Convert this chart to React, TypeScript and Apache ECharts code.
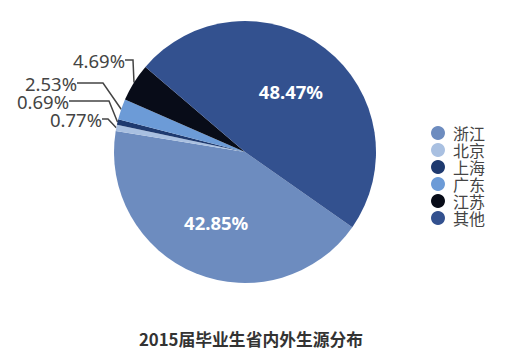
import React, { useEffect, useRef } from "react";
import * as echarts from "echarts";

const categories = ["浙江", "北京", "上海", "广东", "江苏", "其他"];
const values = [42.85, 0.77, 0.69, 2.53, 4.69, 48.47];
const colors = ["#6d8cbf", "#a9c0e1", "#1f3a6f", "#6c9bd7", "#080c18", "#33518f"];
const title = "2015届毕业生省内外生源分布";

// label placement (style): [x, y] anchors for outside labels, [dx, dy] nudges for inside ones
const outsideAnchor: Record<number, [number, number]> = {
  1: [102, 119],
  2: [69, 101],
  3: [93, 83],
  4: [125, 60],
};
const insideNudge: Record<number, [number, number]> = {
  0: [-3, 7],
  5: [4, -6],
};
const lineLen2: Record<number, number> = { 1: 6, 2: 40, 3: 26, 4: 8 };

export default function App() {
  const ref = useRef<HTMLDivElement>(null);
  useEffect(() => {
    const chart = echarts.init(ref.current!, null, { renderer: "svg" });
    const font = '"Noto Sans", "Noto Sans CJK SC", sans-serif';
    const data = categories.map((name, i) => {
      const inside = insideNudge[i] !== undefined;
      return {
        name,
        value: values[i],
        itemStyle: { color: colors[i] },
        label: inside
          ? {
              position: "inside",
              color: "#ffffff",
              fontWeight: "bold",
              fontSize: 18.5,
            }
          : {
              position: "outside",
              color: "#444444",
              fontSize: 18.5,
              padding: i === 3 ? [0, 16, 0, 0] : 0,
            },
        labelLine: inside
          ? { show: false }
          : {
              show: true,
              length: 8,
              length2: lineLen2[i],
              lineStyle: { color: "#444444", width: 1.5 },
            },
      };
    });
    chart.setOption({
      animation: false,
      title: {
        text: title,
        left: 246,
        textAlign: "center",
        top: 326,
        textStyle: {
          fontFamily: '"Noto Sans CJK SC", sans-serif',
          fontSize: 16.8,
          fontWeight: "bold",
          color: "#333333",
        },
      },
      legend: {
        orient: "vertical",
        left: 431,
        top: 125,
        padding: 0,
        icon: "circle",
        itemWidth: 14,
        itemHeight: 14,
        itemGap: 1,
        data: categories,
        textStyle: {
          fontFamily: '"Noto Sans CJK SC", sans-serif',
          fontSize: 16,
          lineHeight: 16,
          color: "#444444",
          padding: [0, 0, 0, 3],
        },
      },
      series: [
        {
          type: "pie",
          center: [245, 152],
          radius: 131,
          startAngle: -35,
          clockwise: true,
          avoidLabelOverlap: false,
          label: {
            formatter: (p: any) => p.value.toFixed(2) + "%",
            fontFamily: font,
          },
          labelLayout: (p: any) => {
            const i = p.dataIndex;
            if (outsideAnchor[i]) {
              return {
                x: outsideAnchor[i][0],
                y: outsideAnchor[i][1],
                align: "right",
                verticalAlign: "middle",
              };
            }
            if (insideNudge[i]) {
              return { dx: insideNudge[i][0], dy: insideNudge[i][1] };
            }
            return {};
          },
          data,
        },
      ],
    });
    return () => chart.dispose();
  }, []);
  return (
    <div
      ref={ref}
      style={{ position: "absolute", left: 0, top: 0, width: 505, height: 364, background: "#ffffff" }}
    />
  );
}
